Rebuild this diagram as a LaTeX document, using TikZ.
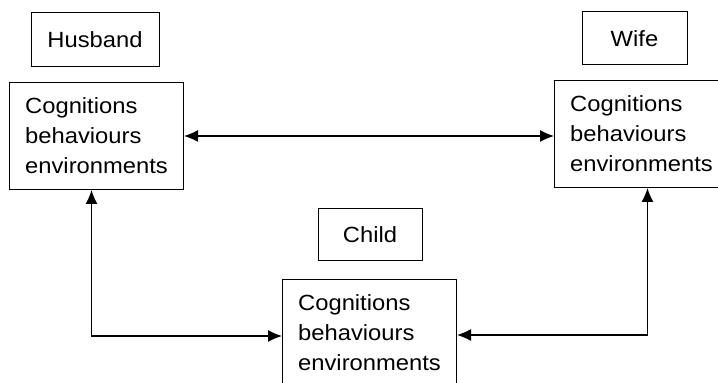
\documentclass[tikz,border=0pt]{standalone}
\usepackage{fontspec}
\setmainfont{Liberation Sans}[FakeStretch=1.08]
\usetikzlibrary{arrows.meta}

\begin{document}
\begin{tikzpicture}
		[x=1pt,y=1pt,
		mainbox/.style={draw,line width=1pt,minimum width=174pt,minimum height=107pt,align=left,anchor=north west},
		namebox/.style={draw,line width=1pt,inner sep=0pt},
		link/.style={{Latex[length=14pt,width=12pt]}-{Latex[length=14pt,width=12pt]},line width=1.2pt},
		every node/.style={font=\fontsize{22}{30}\selectfont}]
		
		\useasboundingbox (0,0) rectangle (718,383);
		\clip (0,0) rectangle (718,383);
		
		\node[namebox,minimum width=128pt,minimum height=54pt] (husbandname) at (95,343) {Husband};
		\node[namebox,minimum width=105pt,minimum height=53pt] (wifename) at (634.5,344.5) {Wife};
		\node[namebox,minimum width=104pt,minimum height=52pt] (childname) at (370,148) {Child};
		
		\node[mainbox] (husband) at (9,301) {Cognitions\\behaviours\\environments};
		\node[mainbox] (wife) at (554,303) {Cognitions\\behaviours\\environments};
		\node[mainbox] (child) at (282,104) {Cognitions\\behaviours\\environments};
		
		\draw[link] (husband.east) -- (husband.east -| wife.west);
		\draw[link] ([xshift=-5pt]husband.south) |- ([yshift=-3pt]child.west);
		\draw[link] ([xshift=6pt]wife.south) |- ([yshift=-2pt]child.east);
		
		\end{tikzpicture}
\end{document}
